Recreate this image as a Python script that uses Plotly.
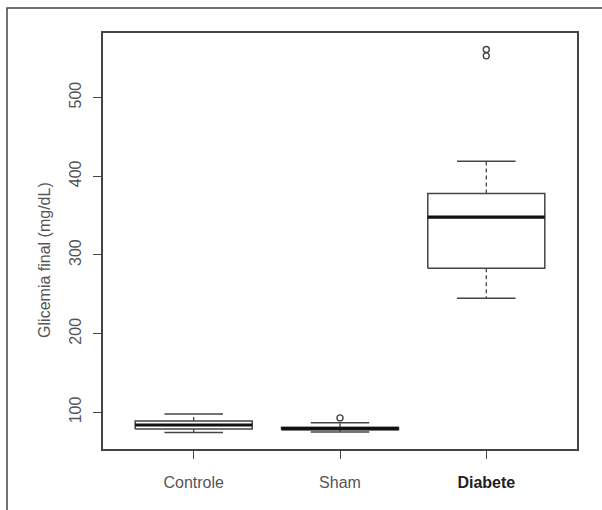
import plotly.graph_objects as go

categories = ["Controle", "Sham", "Diabete"]
lower_whisker = [74.6, 75.0, 245.0]
q1 = [79.0, 78.0, 283.0]
median = [84.0, 79.5, 348.0]
q3 = [89.0, 81.0, 378.0]
upper_whisker = [98.0, 87.0, 419.0]
outlier_group = [1, 2, 2]
outlier_value = [93.0, 561.0, 553.0]
y_ticks = [100, 200, 300, 400, 500]

LINE = "#444444"
TEXT = "#555555"
HALF = 0.4
CAP = 0.2

fig = go.Figure()
for i, name in enumerate(categories):
    # dashed whiskers
    fig.add_trace(go.Scatter(x=[i, i], y=[q3[i], upper_whisker[i]], mode="lines",
                             line=dict(color=LINE, width=1.3, dash="4px,3px"),
                             showlegend=False, hoverinfo="skip"))
    fig.add_trace(go.Scatter(x=[i, i], y=[q1[i], lower_whisker[i]], mode="lines",
                             line=dict(color=LINE, width=1.3, dash="4px,3px"),
                             showlegend=False, hoverinfo="skip"))
    # caps
    for v in (upper_whisker[i], lower_whisker[i]):
        fig.add_trace(go.Scatter(x=[i - CAP, i + CAP], y=[v, v], mode="lines",
                                 line=dict(color=LINE, width=1.5),
                                 showlegend=False, hoverinfo="skip"))
    # box
    fig.add_trace(go.Scatter(x=[i - HALF, i + HALF, i + HALF, i - HALF, i - HALF],
                             y=[q1[i], q1[i], q3[i], q3[i], q1[i]], mode="lines",
                             fill="toself", fillcolor="white",
                             line=dict(color=LINE, width=1.5),
                             showlegend=False, name=name))
    # median
    fig.add_trace(go.Scatter(x=[i - HALF, i + HALF], y=[median[i], median[i]], mode="lines",
                             line=dict(color="#111111", width=3.2),
                             showlegend=False, hoverinfo="skip"))

fig.add_trace(go.Scatter(x=outlier_group, y=outlier_value, mode="markers",
                         marker=dict(symbol="circle-open", size=6, color=LINE,
                                     line=dict(width=1.4, color=LINE)),
                         showlegend=False))

ticktext = ["Controle", "Sham", "<b><span style='color:#222222'>Diabete</span></b>"]

fig.update_layout(
    width=602, height=510,
    margin=dict(l=103, r=25, t=33, b=61),
    paper_bgcolor="white", plot_bgcolor="white",
    font=dict(family="Liberation Sans, Arial, sans-serif", color=TEXT, size=16),
    xaxis=dict(range=[-0.62, 2.62], tickvals=[0, 1, 2], ticktext=ticktext,
               showgrid=False, zeroline=False, showline=True, mirror=True,
               linecolor=LINE, linewidth=1.5, ticks="outside", ticklen=8,
               tickcolor=LINE, tickwidth=1.3, ticklabelstandoff=10,
               tickfont=dict(size=16, color=TEXT)),
    yaxis=dict(range=[53.5, 582], tickvals=y_ticks,
               showgrid=False, zeroline=False, showline=True, mirror=True,
               linecolor=LINE, linewidth=1.5, ticks="outside", ticklen=8,
               tickcolor=LINE, tickwidth=1.3, tickangle=-90, ticklabelstandoff=6,
               tickfont=dict(size=16, color=TEXT)),
    shapes=[dict(type="rect", xref="paper", yref="paper",
                 x0=-0.2025, x1=1.2, y0=-0.3, y1=1.0601,
                 line=dict(color=LINE, width=1.5), layer="below")],
    annotations=[dict(text="Glicemia final (mg/dL)", textangle=-90,
                      xref="paper", yref="paper", x=-0.125, y=0.454,
                      xanchor="center", yanchor="middle",
                      showarrow=False, font=dict(size=16, color=TEXT))],
)

fig.write_html("out.html")
